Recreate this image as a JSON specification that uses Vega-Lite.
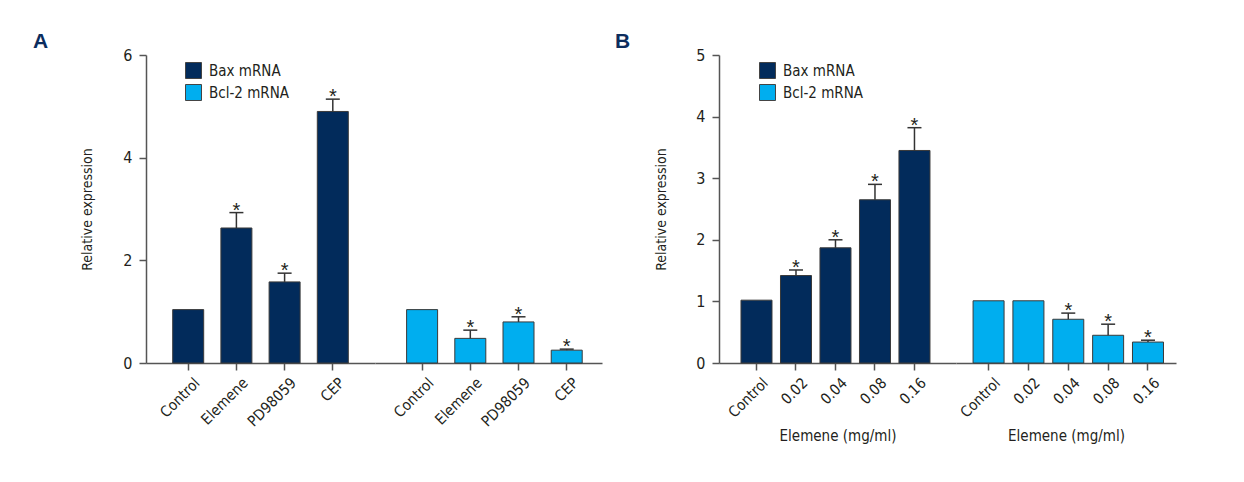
{
  "$schema": "https://vega.github.io/schema/vega-lite/v6.json",
  "padding": {"left": 33, "top": 31, "right": 5, "bottom": 5},
  "background": "white",
  "config": {
    "font": "DejaVu Sans Condensed, Liberation Sans, sans-serif",
    "view": {"stroke": null},
    "axis": {
      "domainColor": "#555555", "domainWidth": 1.5,
      "tickColor": "#555555", "tickWidth": 1.5, "tickSize": 7,
      "labelColor": "#231f20", "labelFontSize": 15,
      "labelFont": "DejaVu Sans Condensed, Liberation Sans, sans-serif",
      "titleColor": "#231f20", "titleFontSize": 14, "titleFontWeight": "normal",
      "titleFont": "DejaVu Sans Condensed, Liberation Sans, sans-serif",
      "grid": false
    },
    "axisY": {"labelPadding": 7, "labelFontSize": 16, "format": "d"},
    "axisX": {"labelAngle": -45, "labelPadding": 5, "labelOffset": 4},
    "legend": {
      "padding": 0, "symbolType": "square", "symbolSize": 256,
      "symbolStrokeColor": "#444444", "symbolStrokeWidth": 1, "symbolOpacity": 1,
      "labelFontSize": 15, "labelColor": "#231f20", "labelOffset": 7, "rowPadding": 1,
      "labelFont": "DejaVu Sans Condensed, Liberation Sans, sans-serif"
    }
  },
  "datasets": {
    "A": [
      {"gene": "Bax mRNA", "treatment": "Control", "value": 1.04, "err": null, "sig": false},
      {"gene": "Bax mRNA", "treatment": "Elemene", "value": 2.63, "err": 2.93, "sig": true},
      {"gene": "Bax mRNA", "treatment": "PD98059", "value": 1.58, "err": 1.75, "sig": true},
      {"gene": "Bax mRNA", "treatment": "CEP", "value": 4.9, "err": 5.14, "sig": true},
      {"gene": "Bcl-2 mRNA", "treatment": "Control", "value": 1.04, "err": null, "sig": false},
      {"gene": "Bcl-2 mRNA", "treatment": "Elemene", "value": 0.48, "err": 0.64, "sig": true},
      {"gene": "Bcl-2 mRNA", "treatment": "PD98059", "value": 0.8, "err": 0.9, "sig": true},
      {"gene": "Bcl-2 mRNA", "treatment": "CEP", "value": 0.25, "err": 0.27, "sig": true}
    ],
    "B": [
      {"gene": "Bax mRNA", "treatment": "Control", "value": 1.02, "err": null, "sig": false},
      {"gene": "Bax mRNA", "treatment": "0.02", "value": 1.42, "err": 1.51, "sig": true},
      {"gene": "Bax mRNA", "treatment": "0.04", "value": 1.87, "err": 2.0, "sig": true},
      {"gene": "Bax mRNA", "treatment": "0.08", "value": 2.65, "err": 2.9, "sig": true},
      {"gene": "Bax mRNA", "treatment": "0.16", "value": 3.45, "err": 3.82, "sig": true},
      {"gene": "Bcl-2 mRNA", "treatment": "Control", "value": 1.01, "err": null, "sig": false},
      {"gene": "Bcl-2 mRNA", "treatment": "0.02", "value": 1.01, "err": null, "sig": false},
      {"gene": "Bcl-2 mRNA", "treatment": "0.04", "value": 0.71, "err": 0.81, "sig": true},
      {"gene": "Bcl-2 mRNA", "treatment": "0.08", "value": 0.45, "err": 0.63, "sig": true},
      {"gene": "Bcl-2 mRNA", "treatment": "0.16", "value": 0.34, "err": 0.37, "sig": true}
    ]
  },
  "hconcat": [
    {
      "title": {"text": "A", "anchor": "start", "frame": "group", "dx": -113, "offset": -5, "fontSize": 21, "font": "Liberation Sans", "fontWeight": "bold", "color": "#0c2d5e"},
      "spacing": 0,
      "bounds": "flush",
      "resolve": {"scale": {"color": "independent"}, "legend": {"color": "independent"}},
      "hconcat": [
        {
          "width": 229, "height": 308,
          "data": {"name": "A"},
          "transform": [{"filter": "datum.gene === 'Bax mRNA'"}],
          "encoding": {
            "x": {"field": "treatment", "type": "nominal", "sort": null, "title": null,
                  "scale": {"paddingInner": 0.357, "paddingOuter": 0.554}}
          },
          "layer": [
            {"mark": {"type": "bar", "stroke": "#3a3a3a", "strokeWidth": 1},
             "encoding": {
               "y": {"field": "value", "type": "quantitative", "title": "Relative expression", "scale": {"domain": [0, 6]}, "axis": {"values": [0, 2, 4, 6], "titlePadding": 28}},
               "color": {"field": "gene", "type": "nominal", "scale": {"domain": ["Bax mRNA", "Bcl-2 mRNA"], "range": ["#022b5b", "#00aeef"]}, "legend": {"orient": "none", "legendX": 39, "legendY": 7, "title": null}}
             }},
            {"transform": [{"filter": "datum.err != null"}],
             "mark": {"type": "rule", "color": "#333333", "strokeWidth": 1.5},
             "encoding": {"y": {"field": "value", "type": "quantitative", "title": "Relative expression"}, "y2": {"field": "err"}}},
            {"transform": [{"filter": "datum.err != null"}],
             "mark": {"type": "tick", "color": "#333333", "thickness": 1.5, "size": 14, "opacity": 1},
             "encoding": {"y": {"field": "err", "type": "quantitative", "title": "Relative expression"}}},
            {"transform": [{"filter": "datum.sig"}],
             "mark": {"type": "text", "text": "*", "font": "Liberation Sans", "fontSize": 20, "color": "#231f20", "baseline": "alphabetic", "dy": 4},
             "encoding": {"y": {"field": "err", "type": "quantitative", "title": "Relative expression"}}}
          ]
        },
        {
          "width": 227, "height": 308,
          "data": {"name": "A"},
          "transform": [{"filter": "datum.gene === 'Bcl-2 mRNA'"}],
          "encoding": {
            "x": {"field": "treatment", "type": "nominal", "sort": null, "title": null,
                  "scale": {"paddingInner": 0.357, "paddingOuter": 0.533, "align": 0.615}}
          },
          "layer": [
            {"mark": {"type": "bar", "stroke": "#3a3a3a", "strokeWidth": 1},
             "encoding": {
               "y": {"field": "value", "type": "quantitative", "scale": {"domain": [0, 6]}, "axis": null},
               "color": {"field": "gene", "type": "nominal", "scale": {"domain": ["Bax mRNA", "Bcl-2 mRNA"], "range": ["#022b5b", "#00aeef"]}, "legend": null}
             }},
            {"transform": [{"filter": "datum.err != null"}],
             "mark": {"type": "rule", "color": "#333333", "strokeWidth": 1.5},
             "encoding": {"y": {"field": "value", "type": "quantitative", "axis": null}, "y2": {"field": "err"}}},
            {"transform": [{"filter": "datum.err != null"}],
             "mark": {"type": "tick", "color": "#333333", "thickness": 1.5, "size": 14, "opacity": 1},
             "encoding": {"y": {"field": "err", "type": "quantitative", "axis": null}}},
            {"transform": [{"filter": "datum.sig"}],
             "mark": {"type": "text", "text": "*", "font": "Liberation Sans", "fontSize": 20, "color": "#231f20", "baseline": "alphabetic", "dy": 4},
             "encoding": {"y": {"field": "err", "type": "quantitative", "axis": null}}}
          ]
        }
      ]
    },
    {
      "title": {"text": "B", "anchor": "start", "frame": "group", "dx": -104, "offset": -5, "fontSize": 21, "font": "Liberation Sans", "fontWeight": "bold", "color": "#0c2d5e"},
      "spacing": 0,
      "bounds": "flush",
      "resolve": {"scale": {"color": "independent"}, "legend": {"color": "independent"}},
      "hconcat": [
        {
          "width": 237, "height": 308,
          "data": {"name": "B"},
          "transform": [{"filter": "datum.gene === 'Bax mRNA'"}],
          "encoding": {
            "x": {"field": "treatment", "type": "nominal", "sort": null, "title": "Elemene (mg/ml)",
                  "scale": {"paddingInner": 0.215, "paddingOuter": 0.608, "align": 0.458},
                  "axis": {"titleFontSize": 15, "titlePadding": 8}}
          },
          "layer": [
            {"mark": {"type": "bar", "stroke": "#3a3a3a", "strokeWidth": 1},
             "encoding": {
               "y": {"field": "value", "type": "quantitative", "title": "Relative expression", "scale": {"domain": [0, 5]}, "axis": {"values": [0, 1, 2, 3, 4, 5], "titlePadding": 27}},
               "color": {"field": "gene", "type": "nominal", "scale": {"domain": ["Bax mRNA", "Bcl-2 mRNA"], "range": ["#022b5b", "#00aeef"]}, "legend": {"orient": "none", "legendX": 40, "legendY": 7, "title": null}}
             }},
            {"transform": [{"filter": "datum.err != null"}],
             "mark": {"type": "rule", "color": "#333333", "strokeWidth": 1.5},
             "encoding": {"y": {"field": "value", "type": "quantitative", "title": "Relative expression"}, "y2": {"field": "err"}}},
            {"transform": [{"filter": "datum.err != null"}],
             "mark": {"type": "tick", "color": "#333333", "thickness": 1.5, "size": 14, "opacity": 1},
             "encoding": {"y": {"field": "err", "type": "quantitative", "title": "Relative expression"}}},
            {"transform": [{"filter": "datum.sig"}],
             "mark": {"type": "text", "text": "*", "font": "Liberation Sans", "fontSize": 20, "color": "#231f20", "baseline": "alphabetic", "dy": 4},
             "encoding": {"y": {"field": "err", "type": "quantitative", "title": "Relative expression"}}}
          ]
        },
        {
          "width": 220, "height": 308,
          "data": {"name": "B"},
          "transform": [{"filter": "datum.gene === 'Bcl-2 mRNA'"}],
          "encoding": {
            "x": {"field": "treatment", "type": "nominal", "sort": null, "title": "Elemene (mg/ml)",
                  "scale": {"paddingInner": 0.222, "paddingOuter": 0.371, "align": 0.577},
                  "axis": {"titleFontSize": 15, "titlePadding": 8}}
          },
          "layer": [
            {"mark": {"type": "bar", "stroke": "#3a3a3a", "strokeWidth": 1},
             "encoding": {
               "y": {"field": "value", "type": "quantitative", "scale": {"domain": [0, 5]}, "axis": null},
               "color": {"field": "gene", "type": "nominal", "scale": {"domain": ["Bax mRNA", "Bcl-2 mRNA"], "range": ["#022b5b", "#00aeef"]}, "legend": null}
             }},
            {"transform": [{"filter": "datum.err != null"}],
             "mark": {"type": "rule", "color": "#333333", "strokeWidth": 1.5},
             "encoding": {"y": {"field": "value", "type": "quantitative", "axis": null}, "y2": {"field": "err"}}},
            {"transform": [{"filter": "datum.err != null"}],
             "mark": {"type": "tick", "color": "#333333", "thickness": 1.5, "size": 14, "opacity": 1},
             "encoding": {"y": {"field": "err", "type": "quantitative", "axis": null}}},
            {"transform": [{"filter": "datum.sig"}],
             "mark": {"type": "text", "text": "*", "font": "Liberation Sans", "fontSize": 20, "color": "#231f20", "baseline": "alphabetic", "dy": 4},
             "encoding": {"y": {"field": "err", "type": "quantitative", "axis": null}}}
          ]
        }
      ]
    }
  ],
  "spacing": 13,
  "bounds": "full",
  "resolve": {"scale": {"color": "independent"}, "legend": {"color": "independent"}}
}
